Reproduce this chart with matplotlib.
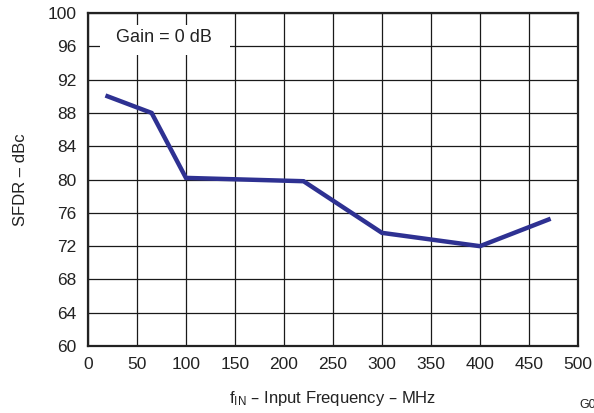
#!/usr/bin/env python3
import matplotlib
matplotlib.use("Agg")
import matplotlib.pyplot as plt
from matplotlib.patches import Rectangle

# SFDR vs input frequency
freq_mhz = [20, 65, 100, 220, 300, 400, 470]
sfdr_dbc = [90.0, 88.0, 80.2, 79.8, 73.6, 72.0, 75.2]

xticks = [0, 50, 100, 150, 200, 250, 300, 350, 400, 450, 500]
yticks = [60, 64, 68, 72, 76, 80, 84, 88, 92, 96, 100]


def main():
    plt.rcParams["font.family"] = ["Liberation Sans", "DejaVu Sans"]
    plt.rcParams["mathtext.default"] = "regular"

    fig = plt.figure(figsize=(5.94, 4.13), dpi=100)
    ax = fig.add_axes([0.148, 0.162, 0.825, 0.8065])

    ax.plot(freq_mhz, sfdr_dbc, color="#2e3192", lw=3.2, solid_joinstyle="miter", zorder=3)

    ax.set_xlim(0, 500)
    ax.set_ylim(60, 100)
    ax.set_xticks(xticks)
    ax.set_yticks(yticks)
    ax.grid(True, color="#1a1a1a", lw=0.9)
    ax.tick_params(length=0, labelsize=12.5, pad=8, colors="#222222")
    for s in ax.spines.values():
        s.set_linewidth(1.6)
        s.set_color("#222222")

    # white label box hiding the grid behind it
    ax.add_patch(Rectangle((12, 94.9), 133, 3.7, facecolor="white", edgecolor="none", zorder=2.5))
    ax.text(78, 97.1, "Gain = 0 dB", ha="center", va="center", fontsize=13, color="#222222", zorder=4)

    ax.set_xlabel("f$_{IN}$ \u2013 Input Frequency \u2013 MHz", fontsize=12, labelpad=12, color="#222222")
    ax.set_ylabel("SFDR \u2013 dBc", fontsize=12, labelpad=14, color="#222222")

    # figure id, cut by the right edge as in the original
    fig.text(0.975, 0.012, "G001", fontsize=9, color="#222222")

    plt.savefig("out.png", dpi=100)


if __name__ == "__main__":
    main()
